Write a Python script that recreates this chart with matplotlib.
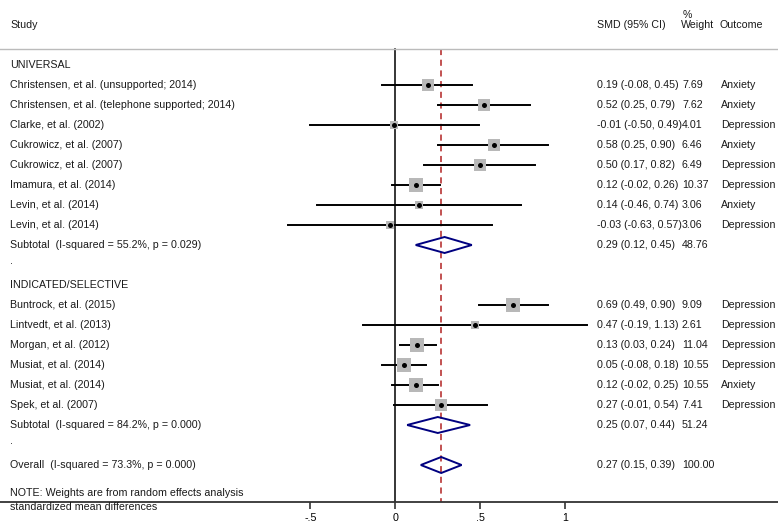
import matplotlib
matplotlib.use("Agg")
from matplotlib import pyplot as plt
from matplotlib.patches import Polygon
import matplotlib.transforms as mtransforms

plt.rcParams['font.family'] = ['Liberation Sans', 'DejaVu Sans']

# data
studies = ["Christensen, et al. (unsupported; 2014)",
           "Christensen, et al. (telephone supported; 2014)",
           "Clarke, et al. (2002)",
           "Cukrowicz, et al. (2007)",
           "Cukrowicz, et al. (2007)",
           "Imamura, et al. (2014)",
           "Levin, et al. (2014)",
           "Levin, et al. (2014)",
           "Buntrock, et al. (2015)",
           "Lintvedt, et al. (2013)",
           "Morgan, et al. (2012)",
           "Musiat, et al. (2014)",
           "Musiat, et al. (2014)",
           "Spek, et al. (2007)"]
smd = [0.19, 0.52, -0.01, 0.58, 0.50, 0.12, 0.14, -0.03, 0.69, 0.47, 0.13, 0.05, 0.12, 0.27]
lo = [-0.08, 0.25, -0.50, 0.25, 0.17, -0.02, -0.46, -0.63, 0.49, -0.19, 0.03, -0.08, -0.02, -0.01]
hi = [0.45, 0.79, 0.49, 0.90, 0.82, 0.26, 0.74, 0.57, 0.90, 1.13, 0.24, 0.18, 0.25, 0.54]
weights = [7.69, 7.62, 4.01, 6.46, 6.49, 10.37, 3.06, 3.06, 9.09, 2.61, 11.04, 10.55, 10.55, 7.41]
outcomes = ["Anxiety", "Anxiety", "Depression", "Anxiety", "Depression", "Depression", "Anxiety",
            "Depression", "Depression", "Depression", "Depression", "Depression", "Anxiety", "Depression"]
study_rows = [1, 2, 3, 4, 5, 6, 7, 8, 12, 13, 14, 15, 16, 17]

pooled_labels = ["Subtotal  (I-squared = 55.2%, p = 0.029)",
                 "Subtotal  (I-squared = 84.2%, p = 0.000)",
                 "Overall  (I-squared = 73.3%, p = 0.000)"]
pooled_est = [0.29, 0.25, 0.27]
pooled_lo = [0.12, 0.07, 0.15]
pooled_hi = [0.45, 0.44, 0.39]
pooled_w = ["48.76", "51.24", "100.00"]
pooled_rows = [9, 18, 20]

group_labels = ["UNIVERSAL", "INDICATED/SELECTIVE"]
group_rows = [0, 11]
dot_rows = [10, 19]
overall = 0.27

W, H = 778, 527
fig = plt.figure(figsize=(W / 100, H / 100), dpi=100)
ax = fig.add_axes([0, 25 / H, 1, 502 / H])
ax.set_xlim((0 - 395.3) / 170, (W - 395.3) / 170)
ax.set_ylim(21.85, -3.25)

for s in ['top', 'left', 'right']:
    ax.spines[s].set_visible(False)
ax.spines['bottom'].set_linewidth(1.3)
ax.spines['bottom'].set_color('#333333')
ax.set_yticks([])
ax.set_xticks([-0.5, 0, 0.5, 1])
ax.set_xticklabels(["-.5", "0", ".5", "1"])
ax.tick_params(axis='x', direction='out', length=5, width=1.2, pad=3, labelsize=7.7, color='#333333')

trans = mtransforms.blended_transform_factory(ax.transAxes, ax.transData)
fs = 7.7
tc = '#1a1a1a'

def px(x):
    return x / W

def label(x, r, s):
    ax.text(px(x), r, s, transform=trans, fontsize=fs, va='center', color=tc)

# header
ax.axhline(-0.8, color='#bbbbbb', lw=1)
label(10, -2, "Study")
label(597, -2, "SMD (95% CI)")
label(683, -2.5, "%")
label(681, -2, "Weight")
label(720, -2, "Outcome")

# reference lines
ax.plot([0, 0], [-0.8, 21.85], color='black', lw=1.1, zorder=1)
ax.plot([overall, overall], [-0.8, 21.85], color='#b22222', lw=1.1, ls=(0, (4, 3)), zorder=1)

for g, r in zip(group_labels, group_rows):
    label(10, r, g)
for r in dot_rows:
    label(10, r - 0.2, ".")

# studies
for i, r in enumerate(study_rows):
    ax.plot([lo[i], hi[i]], [r, r], color='black', lw=1.4, zorder=2)
    ax.scatter([smd[i]], [r], marker='s', s=10 * weights[i], color='#b8b8b8', zorder=3, linewidths=0)
    ax.scatter([smd[i]], [r], marker='o', s=13, color='black', zorder=4, linewidths=0)
    label(10, r, studies[i])
    label(597, r, "%.2f (%.2f, %.2f)" % (smd[i], lo[i], hi[i]))
    label(682, r, "%.2f" % weights[i])
    label(721, r, outcomes[i])

# pooled diamonds
for k, r in enumerate(pooled_rows):
    verts = [(pooled_lo[k], r), (pooled_est[k], r - 0.4), (pooled_hi[k], r), (pooled_est[k], r + 0.4)]
    ax.add_patch(Polygon(verts, closed=True, fill=False, edgecolor='#000080', lw=1.4, zorder=3))
    label(10, r, pooled_labels[k])
    label(597, r, "%.2f (%.2f, %.2f)" % (pooled_est[k], pooled_lo[k], pooled_hi[k]))
    label(682, r, pooled_w[k])

label(10, 21.4, "NOTE: Weights are from random effects analysis")
fig.text(px(10), 1 - 507 / H, "standardized mean differences", fontsize=fs, va='center', color=tc)

fig.savefig("out.png", dpi=100)
